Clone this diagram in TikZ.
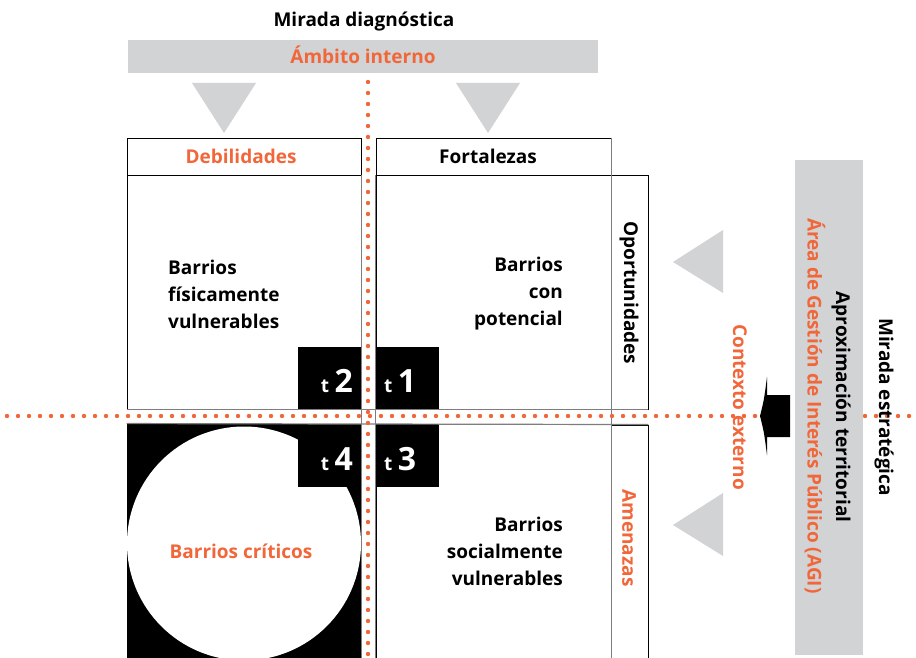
\documentclass[tikz,border=0pt]{standalone}
\usepackage{fontspec}
\setmainfont{Open Sans}
\usetikzlibrary{positioning}
\definecolor{naranja}{RGB}{241,103,58}
\definecolor{gris}{RGB}{209,211,212}
\definecolor{guia}{RGB}{125,125,128}
\tikzstyle{punteado} = [naranja, line width=4.4pt, line cap=round, dash pattern=on 0pt off 11pt]
\tikzstyle{caja} = [draw=black, line width=0.9pt]

\begin{document}
\begin{tikzpicture}[x=1pt, y=-1pt,
            every node/.style={inner sep=0pt, font=\bfseries\fontsize{19}{27}\selectfont},
            rotulo/.style={rotate=-90},
            tetiqueta/.style={text=white, font=\bfseries\fontsize{32}{32}\selectfont},
            triangulo/.style={fill=gris}
        ]
    \clip (0,0) rectangle (916,658);
    % cajas del cuadrante
    \node[caja, minimum width=234, minimum height=37] (deb) at (244,156.5) {};
    \node[caja, minimum width=235, minimum height=37] (fort) at (493.5,156.5) {};
    \node[caja, minimum width=234, minimum height=234] (q2) at (244,292) {};
    \node[caja, minimum width=235, minimum height=234] (q1) at (493.5,292) {};
    \node[caja, fill=black, minimum width=234, minimum height=240] (q4) at (244,544) {};
    \node[caja, minimum width=235, minimum height=240] (q3) at (493.5,544) {};
    \node[caja, minimum width=37, minimum height=234] (opor) at (629.5,292) {};
    \node[caja, minimum width=37, minimum height=240] (amen) at (629.5,545) {};
    \fill[white] (244,543.5) circle (117);
    % casillas t
    \node[fill=black, minimum width=63, minimum height=62] (c2) at (329.5,378) {};
    \node[fill=black, minimum width=63, minimum height=62] (c1) at (407.5,378) {};
    \node[fill=black, minimum width=63, minimum height=63] (c4) at (329.5,455.5) {};
    \node[fill=black, minimum width=63, minimum height=63] (c3) at (407.5,455.5) {};
    % lineas guia
    \draw[guia, line width=1.2pt] (q2.north east) -- (q4.south east);
    \draw[guia, line width=1.2pt] (q1.north west) -- (q3.south west);
    \draw[guia, line width=1.2pt] (fort.north east) -- (q3.south east);
    \draw[guia, line width=1.2pt] (q2.south west) -- (opor.south east);
    \draw[guia, line width=1.2pt] (q4.north west) -- (amen.north east);
    % ejes punteados
    \coordinate (ejeN) at (368,82);
    \coordinate (ejeS) at (368,662);
    \coordinate (ejeO) at (7,416);
    \coordinate (ejeE) at (920,416);
    \draw[punteado] (ejeN) -- (ejeS);
    \draw[punteado] (ejeO) -- (ejeE);
    % barras y flechas
    \fill[gris] (128,40) rectangle (598,73);
    \fill[gris] (795,160) rectangle (863,655);
    \fill[triangulo] (192,83) -- (256,83) -- (224,133) -- cycle;
    \fill[triangulo] (456,83) -- (520,83) -- (488,133) -- cycle;
    \fill[triangulo] (723,230) -- (723,293) -- (673,262) -- cycle;
    \fill[triangulo] (723,493) -- (723,556) -- (673,525) -- cycle;
    \fill[black] (760,416) .. controls (764,400) .. (767,377) -- (767,395) -- (790,395)
        -- (790,437) -- (767,437) -- (767,455) .. controls (764,432) .. (760,416) -- cycle;
    % textos
    \node[anchor=base] (diag) at (364,27) {Mirada diagnóstica};
    \node[anchor=base, text=naranja] (ambito) at (363,64) {Ámbito interno};
    \node[anchor=base, text=naranja] (debil) at (241,164) {Debilidades};
    \node[anchor=base] (forta) at (488,164) {Fortalezas};
    \node[align=left, anchor=west] (fisic) at (168,294) {Barrios\\físicamente\\vulnerables};
    \node[align=right, anchor=east] (poten) at (563,294) {Barrios\\con\\potencial};
    \node[align=right, anchor=east] (social) at (563,551) {Barrios\\socialmente\\vulnerables};
    \node[text=naranja] (critic) at (241,551) {Barrios críticos};
    \node[tetiqueta, anchor=base east] (t2) at (353,392) {{\fontsize{19}{19}\selectfont t}\,2};
    \node[tetiqueta, anchor=base west] (t1) at (384,392) {{\fontsize{19}{19}\selectfont t}\,1};
    \node[tetiqueta, anchor=base east] (t4) at (353,470) {{\fontsize{19}{19}\selectfont t}\,4};
    \node[tetiqueta, anchor=base west] (t3) at (384,470) {{\fontsize{19}{19}\selectfont t}\,3};
    \node[rotulo] (oport) at (629,293) {Oportunidades};
    \node[rotulo, text=naranja] (amena) at (629,538) {Amenazas};
    \node[rotulo, text=naranja] (contx) at (740,407) {Contexto externo};
    \node[rotulo, text=naranja] (agi) at (815,406) {Área de Gestión de Interés Público (AGI)};
    \node[rotulo] (aprox) at (841,407) {Aproximación territorial};
    \node[rotulo] (estra) at (884,407) {Mirada estratégica};
\end{tikzpicture}
\end{document}
